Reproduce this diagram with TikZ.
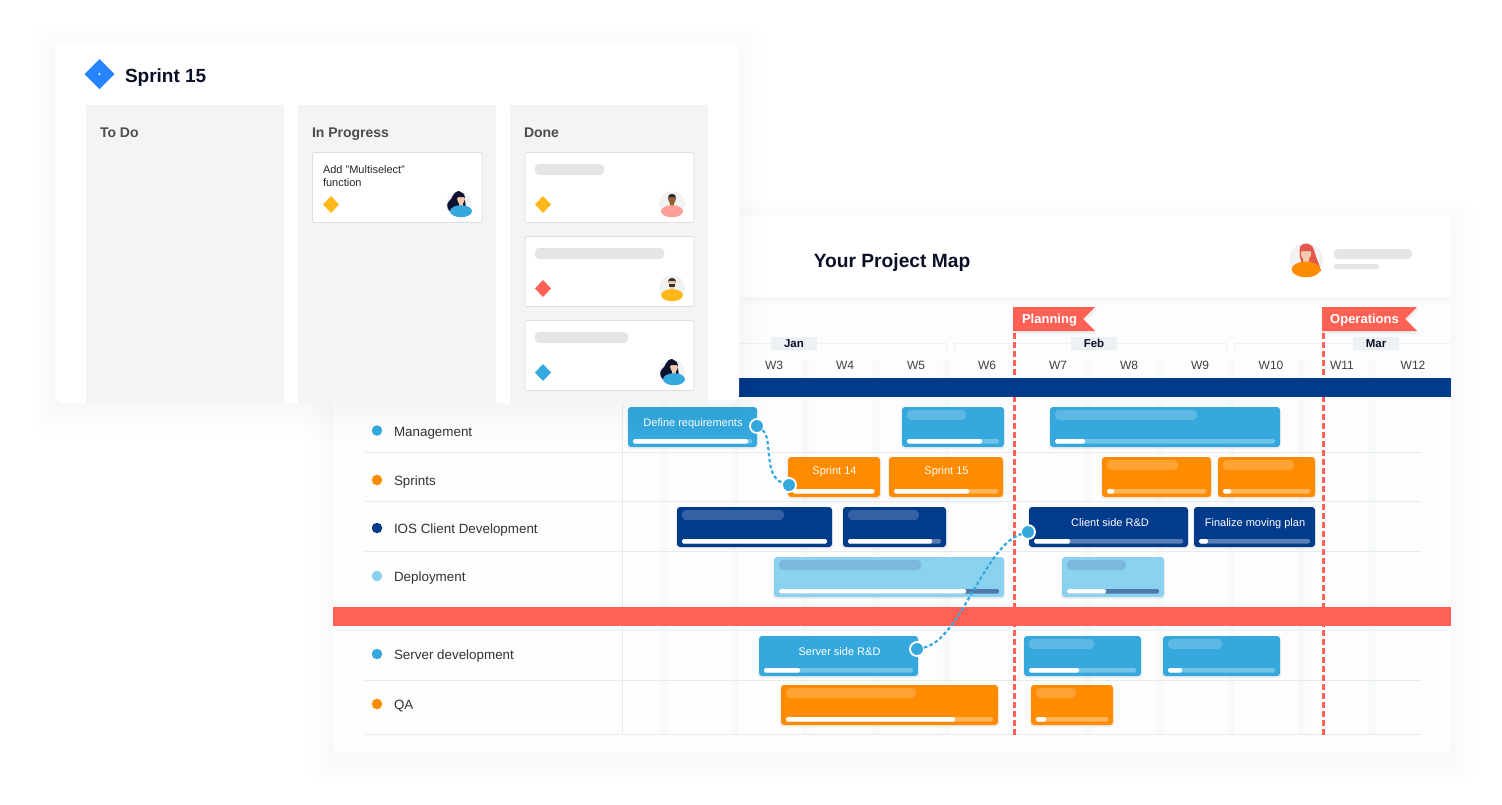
\documentclass[tikz,border=0pt]{standalone}
\usepackage{fontspec}
\setmainfont{Liberation Sans}
\usetikzlibrary{shapes.geometric,shadings}
\definecolor{cblue}{HTML}{35A8DE}
\definecolor{corange}{HTML}{FF8C00}
\definecolor{cnavy}{HTML}{023A8C}
\definecolor{clight}{HTML}{8BD1F0}
\definecolor{cred}{HTML}{FF6154}
\definecolor{cgrid}{HTML}{E4ECF0}
\definecolor{cstripe}{HTML}{F8F9F9}
\definecolor{cbody}{HTML}{FDFDFD}
\definecolor{cholder}{HTML}{E4E5E7}
\definecolor{ccol}{HTML}{F4F4F4}
\definecolor{ctitle}{HTML}{0B1026}
\definecolor{ctrack}{HTML}{4E78A8}
\definecolor{cyellow}{HTML}{FFB71B}
\definecolor{cjira}{HTML}{2684FF}
\definecolor{cskin}{HTML}{F3C9B0}
\definecolor{cdark}{HTML}{0C1230}
\tikzset{
  plain/.style={inner sep=0pt,outer sep=0pt},
  barlabel/.style={plain,text=white,text height=8pt,text depth=0pt,font=\fontsize{11}{13}\selectfont},
  rowlabel/.style={plain,anchor=west,text=black!80,text height=10pt,text depth=0pt,font=\fontsize{13.4}{16}\selectfont},
  rowdot/.style={circle,plain,minimum size=10.5pt},
  weeklabel/.style={plain,text=black!75,text height=8.6pt,text depth=0pt,font=\fontsize{12}{14}\selectfont},
  monthlabel/.style={plain,fill=cgrid!70,minimum width=46pt,minimum height=13pt,text height=8pt,text depth=0pt,font=\bfseries\fontsize{11.5}{13}\selectfont,text=ctitle},
  flaglabel/.style={plain,text=white,text height=9.4pt,text depth=0pt,font=\bfseries\fontsize{13}{15}\selectfont},
  titlelabel/.style={plain,text=ctitle,text height=14pt,text depth=0pt},
  columnhead/.style={plain,anchor=west,text=black!70,text height=10pt,text depth=0pt,font=\bfseries\fontsize{14}{16}\selectfont},
  priority/.style={diamond,plain,minimum width=16pt,minimum height=17pt},
  holder/.style={fill=cholder,rounded corners=4pt},
  taskcard/.style={fill=white,draw=black!13,line width=.8pt,rounded corners=2pt},
  linkdot/.style={circle,fill=cblue,draw=white,line width=1.8pt,minimum size=14pt,plain},
  linkline/.style={cblue,line width=2.2pt,dash pattern=on 3.5pt off 2.5pt},
  milestone/.style={cred,line width=2.6pt,dash pattern=on 5.5pt off 3.5pt},
}
% soft shadow round a rectangle
\newcommand{\softshadow}[4]{%
  \foreach \s in {24,20,16,12,8,4,1}{%
    \fill[black,opacity=.0035,rounded corners=12pt]
      ({#1-\s},{#2-\s+8}) rectangle ({#3+\s},{#4+\s+8});}}
% x0 x1 y0 fill track-colour track-opacity progress-end placeholder-end(0 = none)
\newcommand{\ganttbar}[8]{%
  \fill[black,opacity=.05,rounded corners=3pt] ({#1-1},{#3+1}) rectangle ({#2+1},{#3+42});
  \fill[#4,rounded corners=3pt] (#1,#3) rectangle (#2,{#3+40});
  \fill[#5,opacity=#6,rounded corners=1.5pt] ({#1+5},{#3+32}) rectangle ({#2-5},{#3+36.5});
  \fill[white,rounded corners=1.5pt] ({#1+5},{#3+32}) rectangle (#7,{#3+36.5});
  \ifnum#8>0
    \fill[white,opacity=.2,rounded corners=4pt] ({#1+5},{#3+3}) rectangle (#8,{#3+13});
  \fi}
% x y shirt skin hair r  (local units: r = 13)
\newcommand{\baseavatar}[6]{%
  \begin{scope}[shift={(#1,#2)},x={#6/13*1pt},y={-#6/13*1pt}]
    \fill[#4] (-2,-3) rectangle (2,4);
    \fill[#4] (0,-5) ellipse [x radius=3.9,y radius=4.9];
    \fill[#5] (-4.2,-6) arc[start angle=180,end angle=360,radius=4.2] -- (3,-6.8) -- (-3,-6.8) -- cycle;
    \fill[#3] (0,7.2) ellipse [x radius=11,y radius=6];
  \end{scope}}
\begin{document}
\begin{tikzpicture}[x=1pt,y=-1pt]
\useasboundingbox (0,0) rectangle (1502,804);
\fill[white] (0,0) rectangle (1502,804);
%% ---------- project map panel ----------
\softshadow{333}{216}{1451}{753}
\fill[white,rounded corners=6pt] (333,216) rectangle (1451,753);
\fill[cbody,rounded corners=6pt] (333,297) rectangle (1451,753);
\shade[top color=black!3,bottom color=cbody] (333,297) rectangle (1451,306);
% stripes
\foreach \x in {660,731,802,873,943,1014,1085,1156,1227,1298,1369}
  \fill[cstripe] (\x,360) rectangle ({\x+7},735);
% grid
\foreach \y in {452,501.5,551,680,734}
  \draw[cgrid,line width=.8pt] (365,\y) -- (1421,\y);
\draw[cgrid,line width=.8pt] (622.5,397) -- (622.5,734);
% month brackets
\draw[cgrid!70,line width=.8pt] (730,352) -- (730,343) -- (946,343) -- (946,352);
\draw[cgrid!70,line width=.8pt] (954,352) -- (954,343) -- (1226,343) -- (1226,352);
\draw[cgrid!70,line width=.8pt] (1235,352) -- (1235,343) -- (1451,343);
% milestones
\coordinate (planTop) at (1014.5,333);
\coordinate (planEnd) at (1014.5,735);
\coordinate (opsTop) at (1323.5,333);
\coordinate (opsEnd) at (1323.5,735);
\draw[milestone] (planTop) -- (planEnd);
\draw[milestone] (opsTop) -- (opsEnd);
% full-width bands
\fill[cnavy] (333,378) rectangle (1451,397);
\fill[cred] (333,606.5) rectangle (1451,625.5);
% months and weeks
\node[monthlabel] (jan) at (794,343.5) {Jan};
\node[monthlabel] (feb) at (1094,343.5) {Feb};
\node[monthlabel] (mar) at (1376,343.5) {Mar};
\node[weeklabel] (w3) at (774,365) {W3};
\node[weeklabel] (w4) at (845,365) {W4};
\node[weeklabel] (w5) at (916,365) {W5};
\node[weeklabel] (w6) at (987,365) {W6};
\node[weeklabel] (w7) at (1058,365) {W7};
\node[weeklabel] (w8) at (1129,365) {W8};
\node[weeklabel] (w9) at (1200,365) {W9};
\node[weeklabel] (w10) at (1271,365) {W10};
\node[weeklabel] (w11) at (1342,365) {W11};
\node[weeklabel] (w12) at (1413,365) {W12};
% flags
\fill[black,opacity=.05] (1013,309) -- (1097,309) -- (1085,321) -- (1097,334) -- (1013,334) -- cycle;
\fill[black,opacity=.05] (1322,309) -- (1419,309) -- (1407,321) -- (1419,334) -- (1322,334) -- cycle;
\fill[cred] (1013,307) -- (1095,307) -- (1083,319) -- (1095,331) -- (1013,331) -- cycle;
\fill[cred] (1322,307) -- (1417,307) -- (1405,319) -- (1417,331) -- (1322,331) -- cycle;
\node[flaglabel] (planning) at (1049.5,319) {Planning};
\node[flaglabel] (operations) at (1364.5,319) {Operations};
% header
\node[titlelabel,font=\bfseries\fontsize{19.2}{24}\selectfont] (maptitle) at (892,260) {Your Project Map};
\fill[black!5] (1306,260) circle (17);
\fill[cred!90!black] (1300,247) .. controls (1304,241) and (1312,243) .. (1314,250) .. controls (1316,258) and (1319,263) .. (1321,271) -- (1306,272) .. controls (1302,264) and (1298,256) .. (1300,247) -- cycle;
\baseavatar{1306}{260}{corange}{cskin}{cred!90!black}{17}
% header placeholders
\fill[holder] (1334,249) rectangle (1412,259);
\fill[cholder,rounded corners=2pt] (1334,264) rectangle (1379,269);
% row labels
\node[rowdot,fill=cblue] (d1) at (377,430.5) {};
\node[rowdot,fill=corange] (d2) at (377,480) {};
\node[rowdot,fill=cnavy] (d3) at (377,528) {};
\node[rowdot,fill=clight] (d4) at (377,576) {};
\node[rowdot,fill=cblue] (d5) at (377,654) {};
\node[rowdot,fill=corange] (d6) at (377,704) {};
\node[rowlabel] (r1) at (394,431) {Management};
\node[rowlabel] (r2) at (394,480) {Sprints};
\node[rowlabel] (r3) at (394,528) {IOS Client Development};
\node[rowlabel] (r4) at (394,576) {Deployment};
\node[rowlabel] (r5) at (394,654) {Server development};
\node[rowlabel] (r6) at (394,704) {QA};
% bars
\ganttbar{628}{757}{407}{cblue}{white}{.3}{748}{0}
\ganttbar{902}{1004}{407}{cblue}{white}{.3}{982}{966}
\ganttbar{1050}{1280}{407}{cblue}{white}{.3}{1085}{1197}
\ganttbar{788}{880}{457}{corange}{white}{.35}{874}{0}
\ganttbar{889}{1003}{457}{corange}{white}{.35}{969}{0}
\ganttbar{1102}{1211}{457}{corange}{white}{.35}{1114}{1178}
\ganttbar{1218}{1315}{457}{corange}{white}{.35}{1231}{1294}
\ganttbar{677}{832}{507}{cnavy}{white}{.35}{827}{784}
\ganttbar{843}{946}{507}{cnavy}{white}{.35}{932}{919}
\ganttbar{1029}{1188}{507}{cnavy}{white}{.35}{1070}{0}
\ganttbar{1194}{1315}{507}{cnavy}{white}{.35}{1208}{0}
\ganttbar{774}{1004}{557}{clight}{ctrack}{1}{966}{0}
\fill[ctrack,opacity=.25,rounded corners=4pt] (779,560) rectangle (921,570);
\ganttbar{1062}{1164}{557}{clight}{ctrack}{1}{1106}{0}
\fill[ctrack,opacity=.25,rounded corners=4pt] (1067,560) rectangle (1126,570);
\ganttbar{759}{918}{636}{cblue}{white}{.3}{800}{0}
\ganttbar{1024}{1141}{636}{cblue}{white}{.3}{1079}{1094}
\ganttbar{1163}{1280}{636}{cblue}{white}{.3}{1182}{1222}
\ganttbar{781}{998}{685}{corange}{white}{.35}{955}{916}
\ganttbar{1031}{1113}{685}{corange}{white}{.35}{1046}{1076}
\node[barlabel] (b1) at (693,422) {Define requirements};
\node[barlabel] (b2) at (834.5,470) {Sprint 14};
\node[barlabel] (b3) at (946.5,470) {Sprint 15};
\node[barlabel] (b4) at (1110,522) {Client side R\&D};
\node[barlabel] (b5) at (1255,522) {Finalize moving plan};
\node[barlabel] (b6) at (839.5,651) {Server side R\&D};
% dependency links
\node[linkdot] (l1) at (757,426) {};
\node[linkdot] (l2) at (789,485) {};
\node[linkdot] (l3) at (917,649) {};
\node[linkdot] (l4) at (1028,532) {};
\draw[linkline] (l1) .. controls (773,438) and (763,476) .. (l2);
\draw[linkline] (l3) .. controls (960,640) and (985,545) .. (l4);
%% ---------- sprint panel ----------
\softshadow{55}{43}{739}{403}
\fill[white,rounded corners=8pt] (55,43) rectangle (739,403);
\node[diamond,plain,fill=cjira,minimum width=30pt,minimum height=30pt] (jira) at (99.5,74) {};
\fill[white] (99.5,74) circle (1.2);
\node[titlelabel,anchor=west,font=\bfseries\fontsize{19}{24}\selectfont] (sprinttitle) at (125,75) {Sprint 15};
\fill[ccol] (86,105) rectangle (284,403);
\fill[ccol] (298,105) rectangle (496,403);
\fill[ccol] (510,105) rectangle (708,403);
\node[columnhead] (todo) at (100,132) {To Do};
\node[columnhead] (inprogress) at (312,132) {In Progress};
\node[columnhead] (done) at (524,132) {Done};
\draw[taskcard] (525,152.5) rectangle (694,222.5);
\draw[taskcard] (525,236.5) rectangle (694,306.5);
\draw[taskcard] (525,320.5) rectangle (694,390.5);
\draw[taskcard] (312.5,152.5) rectangle (482,222.5);
\node[plain,anchor=north west,align=left,text=black!85,font=\fontsize{11}{13}\selectfont] (cardtext) at (323,161) {\rule{0pt}{12pt}Add "Multiselect"\\function};
\fill[holder] (535,164) rectangle (604,175);
\fill[holder] (535,248) rectangle (664,259);
\fill[holder] (535,332) rectangle (628,343);
\node[priority,fill=cyellow] (p1) at (331,204.5) {};
\node[priority,fill=cyellow] (p2) at (543,204.5) {};
\node[priority,fill=cred] (p3) at (543,288.5) {};
\node[priority,fill=cblue] (p4) at (543,372.5) {};
% avatars
\fill[black!5] (459,204) circle (13);
\fill[cdark] (459,191) .. controls (452,192) and (453,199) .. (449,201) .. controls (445,205) and (448,212) .. (453,213) -- (466,208) -- (464,194) -- cycle;
\baseavatar{461}{204}{cblue}{cskin}{cdark}{13}
\fill[black!5] (672,204) circle (13);
\baseavatar{672}{204}{cred!60!white}{brown!75!black}{black!85}{13}
\fill[black!5] (672,288) circle (13);
\baseavatar{672}{288}{cyellow}{cskin}{black!80}{13}
\fill[black!80] (669,284) rectangle (675,287);
\fill[black!5] (672,372) circle (13);
\fill[cdark] (672,359) .. controls (665,360) and (666,367) .. (662,369) .. controls (658,373) and (661,380) .. (666,381) -- (679,376) -- (677,362) -- cycle;
\baseavatar{674}{372}{cblue}{cskin}{cdark}{13}
\end{tikzpicture}
\end{document}
